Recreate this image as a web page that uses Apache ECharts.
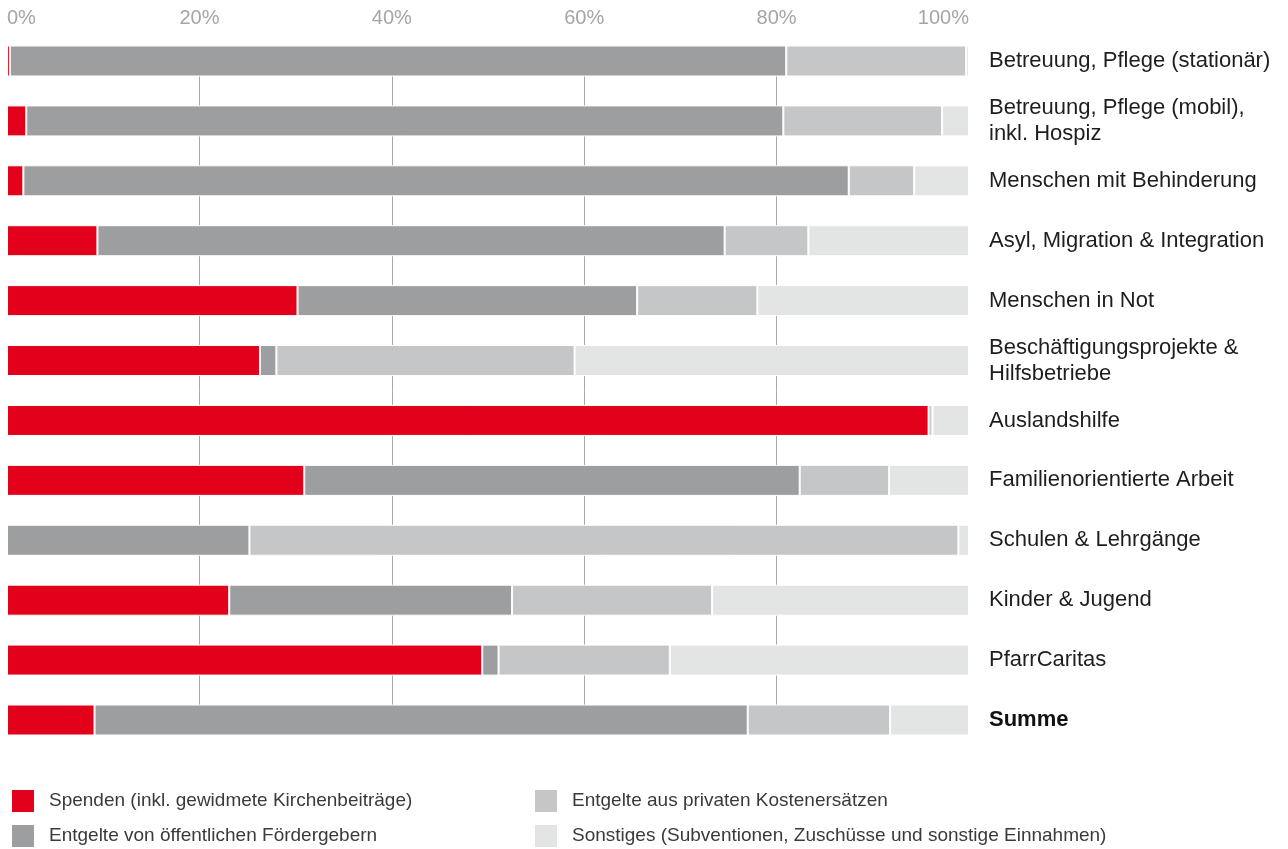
<!DOCTYPE html>
<html>
<head>
<meta charset="utf-8">
<script src="https://cdn.jsdelivr.net/npm/echarts@6/dist/echarts.min.js"></script>
<style>
html,body{margin:0;padding:0;background:#fff;}
#c{width:1288px;height:849px;}
</style>
</head>
<body>
<div id="c"></div>
<script>
const categories = [
  'Betreuung, Pflege (stationär)',
  'Betreuung, Pflege (mobil),\ninkl. Hospiz',
  'Menschen mit Behinderung',
  'Asyl, Migration & Integration',
  'Menschen in Not',
  'Beschäftigungsprojekte &\nHilfsbetriebe',
  'Auslandshilfe',
  'Familienorientierte Arbeit',
  'Schulen & Lehrgänge',
  'Kinder & Jugend',
  'PfarrCaritas',
  'Summe'
];
const seriesNames = [
  'Spenden (inkl. gewidmete Kirchenbeiträge)',
  'Entgelte von öffentlichen Fördergebern',
  'Entgelte aus privaten Kostenersätzen',
  'Sonstiges (Subventionen, Zuschüsse und sonstige Einnahmen)'
];
const spenden    = [0.3, 2.0, 1.7, 9.4, 30.2, 26.3, 95.8, 30.9, 0.0, 23.1, 49.4, 9.1];
const oeffentlich= [80.7, 78.7, 85.8, 65.2, 35.3, 1.7, 0.0, 51.5, 25.2, 29.4, 1.7, 67.9];
const privat     = [18.7, 16.5, 6.8, 8.7, 12.5, 31.0, 0.4, 9.3, 73.7, 20.8, 17.8, 14.8];
const sonstiges  = [0.3, 2.8, 5.7, 16.7, 22.0, 41.0, 3.8, 8.3, 1.1, 26.7, 31.1, 8.2];
const tickValues = [0, 20, 40, 60, 80, 100];
const colors = ['#e2001a', '#9d9ea0', '#c5c6c8', '#e3e4e4'];

const FONT = 'Liberation Sans, Arial, sans-serif';
const dataSets = [spenden, oeffentlich, privat, sonstiges];
const chart = echarts.init(document.getElementById('c'), null, {renderer: 'canvas'});
const series = seriesNames.map((n, i) => ({
  name: n,
  type: 'bar',
  stack: 'total',
  barWidth: 31,
  data: dataSets[i],
  itemStyle: {color: colors[i], borderColor: '#ffffff', borderWidth: 1},
  emphasis: {disabled: true}
}));

const legendPos = [[12, 790], [12, 825], [535, 790], [535, 825]];
const legends = seriesNames.map((n, i) => ({
  data: [n],
  left: legendPos[i][0],
  top: legendPos[i][1],
  padding: 0,
  itemWidth: 22, itemHeight: 22,
  icon: 'rect',
  itemStyle: {borderWidth: 0},
  selectedMode: false,
  textStyle: {fontSize: 19, color: '#3a3a3a', fontFamily: FONT, padding: [0, 0, 0, 10]}
}));

chart.setOption({
  animation: false,
  color: colors,
  grid: {left: 7, right: 319, top: 61, bottom: 129, containLabel: false},
  xAxis: {
    type: 'value',
    position: 'top',
    min: tickValues[0],
    max: tickValues[tickValues.length - 1],
    interval: 20,
    axisLine: {show: false},
    axisTick: {show: false},
    splitLine: {show: true, showMinLine: false, showMaxLine: false, lineStyle: {color: '#a8a8a8', width: 1}},
    axisLabel: {
      formatter: '{value}%',
      color: '#a5a5a5',
      fontSize: 20,
      fontFamily: FONT,
      margin: 33,
      alignMinLabel: 'left',
      alignMaxLabel: 'right'
    }
  },
  yAxis: {
    type: 'category',
    data: categories,
    inverse: true,
    position: 'right',
    boundaryGap: false,
    axisLine: {show: false},
    axisTick: {show: false},
    splitLine: {show: false},
    axisLabel: {
      margin: 20,
      color: '#1e1e1e',
      fontSize: 22,
      lineHeight: 26,
      fontFamily: FONT,
      formatter: v => v === 'Summe' ? '{b|' + v + '}' : v,
      rich: {b: {fontWeight: 'bold', fontSize: 22, color: '#111', fontFamily: FONT}}
    }
  },
  legend: legends,
  series: series
});
</script>
</body>
</html>
